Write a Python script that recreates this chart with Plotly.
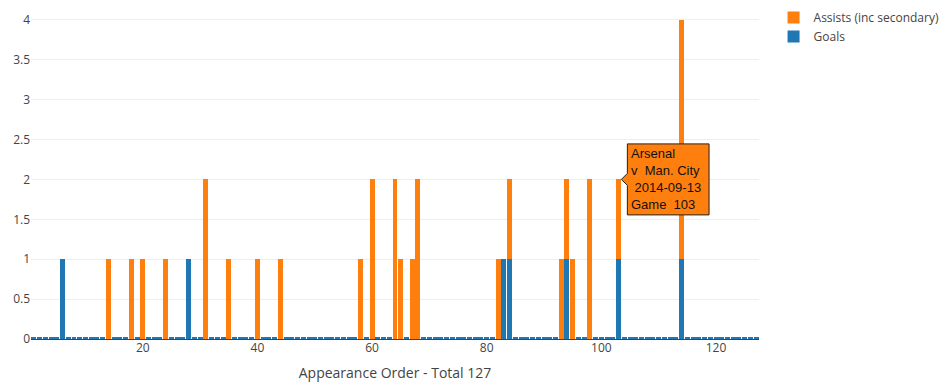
import plotly.graph_objects as go

games = list(range(1, 128))

# Goals per appearance (0.03 = placeholder bar for games without any contribution)
goals = [
    0.03, 0.03, 0.03, 0.03, 0.03, 1,    0.03, 0.03, 0.03, 0.03,   # 1-10
    0.03, 0.03, 0.03, 0,    0.03, 0.03, 0.03, 0,    0.03, 0,      # 11-20
    0.03, 0.03, 0.03, 0,    0.03, 0.03, 0.03, 1,    0.03, 0.03,   # 21-30
    0,    0.03, 0.03, 0.03, 0,    0.03, 0.03, 0.03, 0.03, 0,      # 31-40
    0.03, 0.03, 0.03, 0,    0.03, 0.03, 0.03, 0.03, 0.03, 0.03,   # 41-50
    0.03, 0.03, 0.03, 0.03, 0.03, 0.03, 0.03, 0,    0.03, 0,      # 51-60
    0.03, 0.03, 0.03, 0,    0,    0.03, 0,    0,    0.03, 0.03,   # 61-70
    0.03, 0.03, 0.03, 0.03, 0.03, 0.03, 0.03, 0.03, 0.03, 0.03,   # 71-80
    0.03, 0,    1,    1,    0.03, 0.03, 0.03, 0.03, 0.03, 0.03,   # 81-90
    0.03, 0.03, 0,    1,    0,    0.03, 0.03, 0,    0.03, 0.03,   # 91-100
    0.03, 0.03, 1,    0.03, 0.03, 0.03, 0.03, 0.03, 0.03, 0.03,   # 101-110
    0.03, 0.03, 0.03, 1,    0.03, 0.03, 0.03, 0.03, 0.03, 0.03,   # 111-120
    0.03, 0.03, 0.03, 0.03, 0.03, 0.03, 0.03,                     # 121-127
]

assists = [
    0, 0, 0, 0, 0, 0, 0, 0, 0, 0,   # 1-10
    0, 0, 0, 1, 0, 0, 0, 1, 0, 1,   # 11-20
    0, 0, 0, 1, 0, 0, 0, 0, 0, 0,   # 21-30
    2, 0, 0, 0, 1, 0, 0, 0, 0, 1,   # 31-40
    0, 0, 0, 1, 0, 0, 0, 0, 0, 0,   # 41-50
    0, 0, 0, 0, 0, 0, 0, 1, 0, 2,   # 51-60
    0, 0, 0, 2, 1, 0, 1, 2, 0, 0,   # 61-70
    0, 0, 0, 0, 0, 0, 0, 0, 0, 0,   # 71-80
    0, 1, 0, 1, 0, 0, 0, 0, 0, 0,   # 81-90
    0, 0, 1, 1, 1, 0, 0, 2, 0, 0,   # 91-100
    0, 0, 1, 0, 0, 0, 0, 0, 0, 0,   # 101-110
    0, 0, 0, 3, 0, 0, 0, 0, 0, 0,   # 111-120
    0, 0, 0, 0, 0, 0, 0,            # 121-127
]

hover_game = 103
hover_y = 2
hover_lines = ["Arsenal", "v\u00a0\u00a0Man. City", "\u00a02014-09-13", "Game\u00a0\u00a0103"]

BLUE = "#1f77b4"
ORANGE = "#ff7f0e"
FONT = "Open Sans, verdana, arial, sans-serif"

fig = go.Figure()
fig.add_trace(go.Bar(x=games, y=goals, name="Goals", marker=dict(color=BLUE)))
fig.add_trace(go.Bar(x=games, y=assists, name="Assists (inc secondary)", marker=dict(color=ORANGE)))

# hover-style label (box with pointer) anchored at the data point
fig.add_shape(
    type="path", xref="x", yref="y",
    xsizemode="pixel", xanchor=hover_game,
    ysizemode="pixel", yanchor=hover_y,
    path="M2.8,0 L8.8,6 V35.5 H90.5 V-35.5 H8.8 V-6 Z",
    fillcolor=ORANGE, line=dict(color="#222", width=1), layer="above",
)
fig.add_annotation(
    x=hover_game, y=hover_y, xref="x", yref="y",
    text="<br>".join(hover_lines), showarrow=False,
    xanchor="left", yanchor="middle", align="left", xshift=11,
    borderpad=0, font=dict(family="Arial, Liberation Sans", size=13, color="#111"),
)

fig.update_layout(
    template="none",
    barmode="stack",
    bargap=0.13,
    width=948, height=382,
    margin=dict(l=31, r=187, t=3, b=43),
    paper_bgcolor="white", plot_bgcolor="white",
    font=dict(family=FONT, size=12, color="#444"),
    showlegend=True,
    legend=dict(font=dict(family=FONT, size=12, color="#444")),
    xaxis=dict(
        title=dict(text="Appearance Order - Total 127", font=dict(size=14, color="#444")),
        range=[0.5, 127.5], dtick=20, tick0=0, showgrid=False, zeroline=False,
        showline=False, ticks="", tickfont=dict(size=12, color="#444"),
    ),
    yaxis=dict(
        range=[0, 4.2105], dtick=0.5, tick0=0, showgrid=True, gridcolor="#eee",
        zeroline=True, zerolinecolor="#444", zerolinewidth=1, showline=False, ticks="",
        tickfont=dict(size=12, color="#444"),
    ),
)

fig.write_html(
    "out.html",
    config={"displayModeBar": False},
    post_script="document.body.style.margin='0';document.body.style.overflow='hidden';",
)
